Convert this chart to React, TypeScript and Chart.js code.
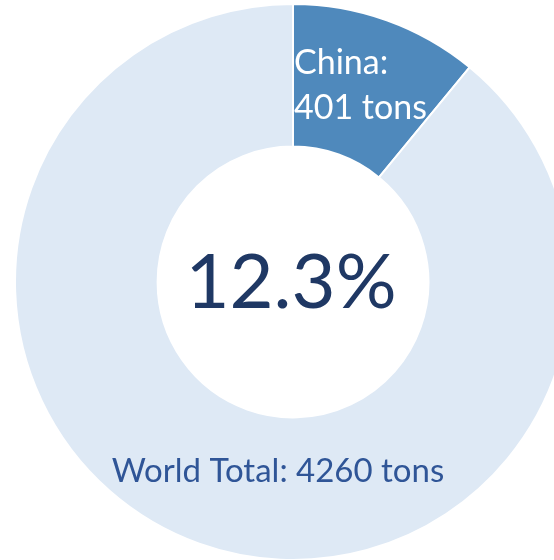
import React, { useEffect, useRef } from "react";
import { Chart, registerables } from "chart.js";

Chart.register(...registerables);

const categories = ["China", "World Total"];
const values = [12.3, 100];
const chinaLabelLines = ["China:", "401 tons"];
const centerLabel = "12.3%";
const totalLabel = "World Total: 4260 tons";
const sliceColors = ["#4F89BC", "#DEE9F5"];

const FONT = "Lato, 'Open Sans', sans-serif";

const labelPlugin = {
  id: "doughnutLabels",
  afterDraw(chart: any) {
    const meta = chart.getDatasetMeta(0);
    const arc = meta.data[0];
    if (!arc) return;
    const { x, y, outerRadius } = arc.getProps(["x", "y", "outerRadius"], true);
    const ctx = chart.ctx;
    ctx.save();
    // China slice label
    ctx.fillStyle = "#FFFFFF";
    ctx.textAlign = "left";
    ctx.textBaseline = "alphabetic";
    ctx.font = `34px ${FONT}`;
    ctx.fillText(chinaLabelLines[0], x + 1, y - outerRadius + 70);
    ctx.fillText(chinaLabelLines[1], x + 1, y - outerRadius + 115);
    // center percentage
    ctx.fillStyle = "#1F3864";
    ctx.textAlign = "center";
    ctx.textBaseline = "alphabetic";
    ctx.font = `76px ${FONT}`;
    ctx.fillText(centerLabel, x - 2, y + 26);
    // world total
    ctx.fillStyle = "#2F5597";
    ctx.font = `33px ${FONT}`;
    ctx.fillText(totalLabel, x - 15, y + 200);
    ctx.restore();
  },
};

export default function App() {
  const canvasRef = useRef<HTMLCanvasElement | null>(null);

  useEffect(() => {
    if (!canvasRef.current) return;
    const chart = new Chart(canvasRef.current, {
      type: "doughnut",
      data: {
        labels: categories,
        datasets: [
          {
            data: values,
            backgroundColor: sliceColors,
            borderColor: "#FFFFFF",
            borderWidth: 2,
          },
        ],
      },
      options: {
        responsive: true,
        maintainAspectRatio: false,
        animation: false,
        cutout: "48.7%",
        layout: { padding: 0 },
        plugins: {
          legend: { display: false },
          tooltip: { enabled: false },
          title: { display: false },
        },
      },
      plugins: [labelPlugin],
    });
    return () => chart.destroy();
  }, []);

  return (
    <div style={{ position: "fixed", left: 0, top: 0, right: 0, bottom: 0, overflow: "hidden", background: "#FFFFFF" }}>
      <div style={{ position: "absolute", left: 14, top: 3, width: 558, height: 558 }}>
        <canvas ref={canvasRef} />
      </div>
    </div>
  );
}
